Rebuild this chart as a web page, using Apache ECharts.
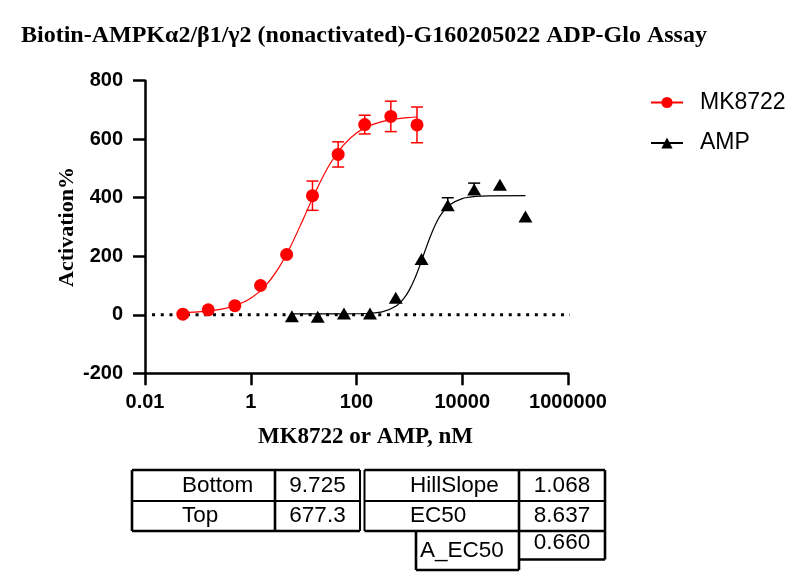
<!DOCTYPE html>
<html><head><meta charset="utf-8">
<script src="https://cdn.jsdelivr.net/npm/echarts@6/dist/echarts.min.js"></script>
<style>html,body{margin:0;padding:0;background:#fff}#c{width:811px;height:587px}</style>
</head><body><div id="c"></div>
<script>
// ---------- data ----------
const chartTitle = 'Biotin-AMPKα2/β1/γ2 (nonactivated)-G160205022 ADP-Glo Assay';
const xAxisTitle = 'MK8722 or AMP, nM';
const yAxisTitle = 'Activation%';
const xTickValues = [0.01, 1, 100, 10000, 1000000];
const xTickLabels = ['0.01', '1', '100', '10000', '1000000'];
const yTickLabels = ['-200', '0', '200', '400', '600', '800'];
const seriesNames = ['MK8722', 'AMP'];

// MK8722 measured points (nM, Activation%, SEM)
const mkConc = [0.052, 0.157, 0.50, 1.53, 4.78, 14.7, 45, 143, 446, 1394];
const mkMean = [2, 17, 31, 100, 206, 407, 548, 650, 678, 649];
const mkErr  = [0, 0, 0, 0, 0, 50, 43, 32, 52, 61];
// AMP measured points
const ampConc = [6.0, 18.5, 58, 180, 553, 1700, 5320, 16800, 51600, 156700];
const ampMean = [-5, -7, 4, 4, 58, 191, 374, 428, 444, 336];
const ampErr  = [0, 0, 0, 0, 0, 0, 26, 22, 0, 0];
// fitted curves
const mkFitConc  = [0.052, 0.1, 0.178, 0.316, 0.562, 1, 1.78, 3.16, 5.62, 10, 17.8, 31.6, 56.2, 100, 178, 316, 562, 1000, 1394];
const mkFitValue = [7.5, 9.9, 14.0, 21.3, 34.2, 56.7, 93.9, 151.7, 232.4, 330.3, 430.2, 516.0, 579.3, 621.0, 646.4, 661.2, 669.6, 674.3, 676];
const ampFitConc  = [6.0, 10, 31.6, 100, 178, 316, 562, 794, 1000, 1259, 1585, 1995, 2512, 3162, 3981, 5623, 10000, 17783, 31623, 156700];
const ampFitValue = [3, 3, 3, 3.6, 5.3, 11.0, 30.1, 56.8, 85.0, 123.0, 169.5, 220.3, 269.2, 310.9, 343.1, 374.4, 397.2, 404.2, 406.4, 407];
// dotted baseline
const zeroLineConc  = [0.0136, 1350000];
const zeroLineValue = [0, 0];
// parameter table
const tableLeftLabels  = ['Bottom', 'Top'];
const tableLeftValues  = ['9.725', '677.3'];
const tableRightLabels = ['HillSlope', 'EC50'];
const tableRightValues = ['1.068', '8.637'];
const tableExtraLabel  = 'A_EC50';
const tableExtraValue  = '0.660';

// ---------- chart ----------
const SANS = 'Liberation Sans, Arial, sans-serif';
const SERIF = 'Liberation Serif, Times New Roman, serif';
const RED = '#ff0000';
const BLACK = '#000000';
const lg = v => Math.log10(v);
const pts = (xs, ys) => xs.map((x, i) => [lg(x), ys[i]]);

function errorSeries(conc, mean, err, color, both) {
  const data = conc.map((c, i) => [lg(c), mean[i], err[i]]).filter(d => d[2] > 0);
  return {
    type: 'custom', silent: true, z: 3, data,
    encode: { x: 0, y: 1 },
    renderItem(params, api) {
      const x = api.value(0), y = api.value(1), e = api.value(2);
      const top = api.coord([x, y + e]);
      const bot = api.coord([x, both ? y - e : y]);
      const hw = 6, st = { stroke: color, lineWidth: 1.5 };
      const ch = [
        { type: 'line', shape: { x1: top[0], y1: top[1], x2: bot[0], y2: bot[1] }, style: st },
        { type: 'line', shape: { x1: top[0] - hw, y1: top[1], x2: top[0] + hw, y2: top[1] }, style: st }
      ];
      if (both) ch.push({ type: 'line', shape: { x1: bot[0] - hw, y1: bot[1], x2: bot[0] + hw, y2: bot[1] }, style: st });
      return { type: 'group', children: ch };
    }
  };
}

// table graphic
const T = { l: 132, m1: 275, d1: 360, d2: 364.5, m2: 519, r: 605, t: 470, mid: 501, b: 531, ax: 416, ab: 570, vb: 559.5 };
const LW = 2.6;
const ln = (x1, y1, x2, y2, w) => ({ type: 'line', shape: { x1, y1, x2, y2 }, style: { stroke: '#000', lineWidth: w || LW } });
const txt = (s, x, y, align) => ({ type: 'text', x, y, style: { text: s, font: '22.5px ' + SANS, fill: '#000', textAlign: align, textVerticalAlign: 'middle' } });
const rowY = [485.5, 516];
const tableEls = [
  ln(T.l, T.t, T.d1, T.t), ln(T.l, T.b, T.d1, T.b), ln(T.l, T.t, T.l, T.b), ln(T.d1, T.t, T.d1, T.b, 2),
  ln(T.m1, T.t, T.m1, T.b), ln(T.l, T.mid, T.d1, T.mid, 2),
  ln(T.d2, T.t, T.r, T.t), ln(T.d2, T.b, T.r, T.b), ln(T.d2, T.t, T.d2, T.b, 2), ln(T.r, T.t, T.r, T.b),
  ln(T.m2, T.t, T.m2, T.b), ln(T.d2, T.mid, T.r, T.mid, 2),
  ln(T.ax, T.b, T.ax, T.ab), ln(T.ax, T.ab, T.m2, T.ab), ln(T.m2, T.b, T.m2, T.ab),
  ln(T.m2, T.vb, T.r, T.vb), ln(T.r, T.b, T.r, T.vb),
  txt(tableLeftLabels[0], 182, rowY[0], 'left'), txt(tableLeftLabels[1], 182, rowY[1], 'left'),
  txt(tableLeftValues[0], 317.5, rowY[0], 'center'), txt(tableLeftValues[1], 317.5, rowY[1], 'center'),
  txt(tableRightLabels[0], 410, rowY[0], 'left'), txt(tableRightLabels[1], 410, rowY[1], 'left'),
  txt(tableRightValues[0], 562, rowY[0], 'center'), txt(tableRightValues[1], 562, rowY[1], 'center'),
  txt(tableExtraLabel, 420, 550.5, 'left'), txt(tableExtraValue, 562, 543, 'center')
];

const chart = echarts.init(document.getElementById('c'), null, { renderer: 'canvas' });
chart.setOption({
  animation: false,
  backgroundColor: '#fff',
  title: {
    text: chartTitle, left: 16, top: 19,
    textStyle: { fontFamily: SERIF, fontWeight: 'bold', fontSize: 24, color: '#000' }
  },
  legend: {
    data: seriesNames, orient: 'vertical', left: 645, top: 86,
    itemWidth: 32, itemHeight: 14, itemGap: 17.5, selectedMode: false,
    textStyle: { fontFamily: SANS, fontSize: 23, color: '#000', lineHeight: 21, padding: [0, 0, 0, 12] }
  },
  grid: { left: 145, right: 243, top: 80.7, bottom: 213.7, containLabel: false },
  xAxis: {
    type: 'value', min: lg(xTickValues[0]), max: lg(xTickValues[xTickValues.length - 1]), interval: 2,
    name: xAxisTitle, nameLocation: 'middle', nameGap: 52,
    nameTextStyle: { fontFamily: SERIF, fontWeight: 'bold', fontSize: 23, color: '#000', padding: [0, 0, 0, 18] },
    axisLine: { onZero: false, lineStyle: { color: '#000', width: 2.5 } },
    axisTick: { inside: false, length: 12, lineStyle: { color: '#000', width: 2.5 } },
    axisLabel: {
      margin: 19, fontFamily: SANS, fontWeight: 'bold', fontSize: 20, color: '#000',
      formatter: v => { const i = xTickValues.findIndex(t => Math.abs(lg(t) - v) < 1e-6); return i >= 0 ? xTickLabels[i] : ''; }
    },
    splitLine: { show: false }
  },
  yAxis: {
    type: 'value', min: -200, max: 800, interval: 200,
    name: yAxisTitle, nameLocation: 'middle', nameGap: 67, nameMoveOverlap: false,
    nameTextStyle: { fontFamily: SERIF, fontWeight: 'bold', fontSize: 22, color: '#000' },
    axisLine: { onZero: false, lineStyle: { color: '#000', width: 2.5 } },
    axisTick: { inside: false, length: 12, lineStyle: { color: '#000', width: 2.5 } },
    axisLabel: {
      margin: 22, fontFamily: SANS, fontWeight: 'bold', fontSize: 20, color: '#000',
      formatter: v => yTickLabels.find(s => Number(s) === v) || ''
    },
    splitLine: { show: false }
  },
  series: [
    { name: seriesNames[0], type: 'line', data: pts(mkFitConc, mkFitValue), smooth: 0.3, showSymbol: false,
      symbol: 'circle', symbolSize: 13, itemStyle: { color: RED }, lineStyle: { color: RED, width: 1.2 }, z: 2, silent: true },
    { name: seriesNames[1], type: 'line', data: pts(ampFitConc, ampFitValue), smooth: 0.3, showSymbol: false,
      symbol: 'triangle', symbolSize: [14, 12], itemStyle: { color: BLACK }, lineStyle: { color: BLACK, width: 1.2 }, z: 2, silent: true },
    { type: 'line', data: pts(zeroLineConc, zeroLineValue), showSymbol: false, clip: false, silent: true, z: 1,
      lineStyle: { color: '#000', width: 3, type: [3, 5.7] } },
    errorSeries(mkConc, mkMean, mkErr, RED, true),
    errorSeries(ampConc, ampMean, ampErr, BLACK, false),
    { name: seriesNames[0], type: 'scatter', data: pts(mkConc, mkMean), symbol: 'circle', symbolSize: 13,
      itemStyle: { color: RED, opacity: 1 }, z: 5 },
    { name: seriesNames[1], type: 'scatter', data: pts(ampConc, ampMean), symbol: 'triangle', symbolSize: [14, 12],
      itemStyle: { color: BLACK, opacity: 1 }, z: 5 }
  ],
  graphic: tableEls
});
</script></body></html>
